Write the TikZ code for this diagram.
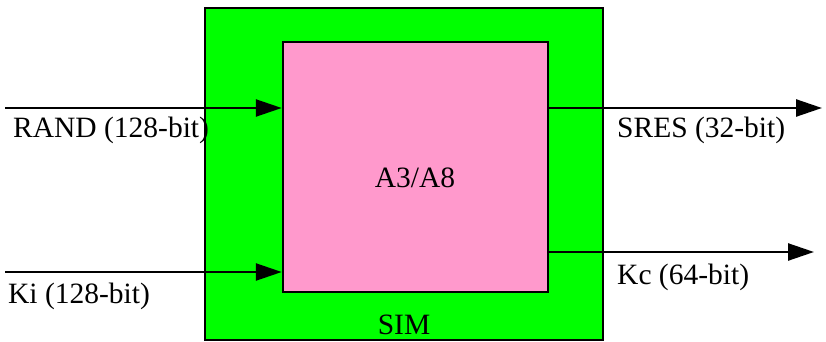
\documentclass[tikz,border=0pt]{standalone}
\usepackage{fontspec}
\setmainfont{Liberation Serif}
\usepackage{xcolor}
\usetikzlibrary{arrows.meta, positioning}
\definecolor{simgreen}{HTML}{00FF00}
\definecolor{algpink}{HTML}{FF99CC}

\begin{document}
\begin{tikzpicture}[
    x=1pt, y=-1pt,
    block/.style={rectangle, draw=black, line width=2.5pt, inner sep=0pt},
    arrow/.style={-{Triangle[length=26pt, width=17pt]}, line width=2.5pt},
    label/.style={font=\fontsize{29.5}{34}\selectfont, inner sep=0pt}
]
\useasboundingbox (0,0) rectangle (826,342);
\node[block, fill=simgreen, minimum width=398pt, minimum height=332pt] (sim) at (404,174) {};
\node[block, fill=algpink, minimum width=265pt, minimum height=250pt] (alg) at (415.5,167) {};
\node[label] (algname) at (415,178) {A3/A8};
\node[label, anchor=base] (simname) at (404,334) {SIM};
% inputs
\coordinate (randin) at (5,108);
\coordinate (kiin) at (5,272);
\draw[arrow] (randin) -- (alg.west |- randin);
\draw[arrow] (kiin) -- (alg.west |- kiin);
\node[label, anchor=base west] (randlabel) at (13,137) {RAND (128-bit)};
\node[label, anchor=base west] (kilabel) at (8,303) {Ki (128-bit)};
% outputs
\coordinate (sresout) at (822,108);
\coordinate (kcout) at (814,252);
\draw[arrow] (alg.east |- sresout) -- (sresout);
\draw[arrow] (alg.east |- kcout) -- (kcout);
\node[label, anchor=base west] (sreslabel) at (617,137) {SRES (32-bit)};
\node[label, anchor=base west] (kclabel) at (617,284) {Kc (64-bit)};
\end{tikzpicture}
\end{document}
